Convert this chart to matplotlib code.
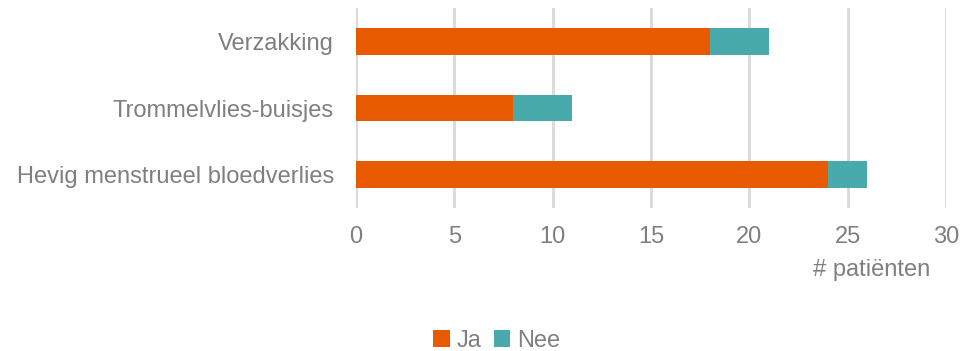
import matplotlib.pyplot as plt

categories = ['Hevig menstrueel bloedverlies', 'Trommelvlies-buisjes', 'Verzakking']
ja = [24, 8, 18]
nee = [2, 3, 3]
xticks = [0, 5, 10, 15, 20, 25, 30]

plt.rcParams['font.family'] = ['Liberation Sans', 'DejaVu Sans']
grey = '#7f7f7f'

fig = plt.figure(figsize=(9.62, 3.51), dpi=100)
ax = fig.add_axes([356 / 962, 1 - 208 / 351, 590 / 962, 200 / 351])

y = range(len(categories))
ax.barh(y, ja, height=0.4, color='#E85A00', label='Ja', zorder=3)
ax.barh(y, nee, left=ja, height=0.4, color='#48AAAA', label='Nee', zorder=3)

ax.set_xlim(0, 30)
ax.set_ylim(-0.5, 2.5)
ax.set_xticks(xticks)
ax.set_yticks(list(y))
ax.set_yticklabels(categories)
ax.tick_params(axis='both', length=0, labelsize=17, colors=grey)
ax.tick_params(axis='x', pad=13)
ax.tick_params(axis='y', pad=16)
ax.grid(axis='x', color='#d9d9d9', linewidth=2, zorder=0)
for s in ax.spines.values():
    s.set_visible(False)

fig.text(930 / 962, 1 - 270 / 351, '# patiënten', ha='right', va='center',
         fontsize=17, color=grey)

fig.legend(loc='center', bbox_to_anchor=(497 / 962, 1 - 341 / 351), ncol=2,
           frameon=False, fontsize=17, labelcolor=grey, handlelength=0.7,
           handleheight=0.7, handletextpad=0.3, columnspacing=0.5)

fig.savefig('out.png', dpi=100)
